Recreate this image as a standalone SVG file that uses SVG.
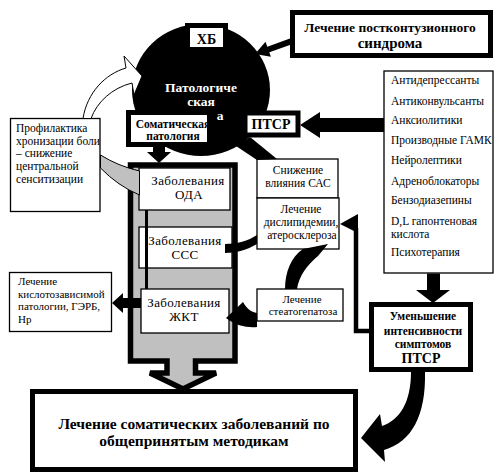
<svg xmlns="http://www.w3.org/2000/svg" width="499" height="476" viewBox="0 0 499 476" font-family="'Liberation Serif', 'Times New Roman', 'DejaVu Serif', serif">
<style>
text{font-family:'Liberation Serif','Times New Roman','DejaVu Serif',serif;fill:#000}
.b{font-weight:bold}
.m{text-anchor:middle}
.thin{fill:#fff;stroke:#000;stroke-width:1.3}
.thick{fill:#fff;stroke:#000;stroke-width:5}
.blk{fill:#000;stroke:none}
.z{font-size:13px;letter-spacing:0.4px}
.s{font-size:11.5px}
.w{fill:#fff}
</style>
<rect width="499" height="476" fill="#fff"/>

<g id="core">
<ellipse cx="201" cy="90" rx="69" ry="66" fill="#000"/>
<text class="b m w" x="201" y="92" font-size="13.5">Патологиче</text>
<text class="b m w" x="201" y="106" font-size="13.5">ская</text>
<text class="b m w" x="220" y="120" font-size="13.5">а</text>
</g>

<g id="column">
<polygon points="130.5,165 235,165 235,361 195.5,361 195.5,373 216,373 183,389 150,373 167,373 167,361 130.5,361" fill="#c0c0c0" stroke="#000" stroke-width="5.5"/>
</g>

<g id="hb">
<rect class="thick" x="187.5" y="25.5" width="38" height="24"/>
<text class="b m" x="206.5" y="44" font-size="14">ХБ</text>
</g>

<g id="postcontusion">
<rect class="thick" x="292.5" y="12.5" width="198" height="43"/>
<text class="b m" x="390" y="32" font-size="13.5">Лечение постконтузионного</text>
<text class="b m" x="390" y="48" font-size="15">синдрома</text>
</g>

<g id="ptsr">
<rect class="thick" x="245" y="113" width="53" height="22" stroke-width="4"/>
<text class="b m" x="271" y="129" font-size="14">ПТСР</text>
</g>

<g id="somatic">
<rect class="thick" x="128.5" y="112.5" width="81" height="32"/>
<text class="b m" x="173" y="128" font-size="11.5">Соматическая</text>
<text class="b m" x="173" y="140" font-size="11.5">патология</text>
</g>

<g id="drugs">
<rect class="thin" x="384" y="71" width="109" height="202"/>
<text class="s" x="391" y="84">Антидепрессанты</text>
<text class="s" x="391" y="105">Антиконвульсанты</text>
<text class="s" x="391" y="124">Анксиолитики</text>
<text class="s" x="391" y="144">Производные ГАМК</text>
<text class="s" x="391" y="164">Нейролептики</text>
<text class="s" x="391" y="185">Адреноблокаторы</text>
<text class="s" x="391" y="204">Бензодиазепины</text>
<text class="s" x="391" y="225">D,L гапонтеновая</text>
<text class="s" x="391" y="238">кислота</text>
<text class="s" x="391" y="256">Психотерапия</text>
</g>

<g id="prevention">
<rect class="thin" x="10.5" y="118.5" width="89.5" height="93"/>
<text class="s" x="16" y="132">Профилактика</text>
<text class="s" x="16" y="145">хронизации боли</text>
<text class="s" x="16" y="157">– снижение</text>
<text class="s" x="16" y="170">центральной</text>
<text class="s" x="16" y="183">сенситизации</text>
</g>

<g id="oda">
<rect class="thin" x="139" y="168" width="91" height="42"/>
<text class="z m" x="188" y="185">Заболевания</text>
<text class="z m" x="189" y="199">ОДА</text>
</g>

<g id="sss">
<rect class="thin" x="139" y="227" width="93" height="41"/>
<text class="z m" x="185" y="245">Заболевания</text>
<text class="z m" x="185" y="259">ССС</text>
</g>

<g id="gkt">
<rect class="thin" x="141" y="289" width="88" height="44"/>
<text class="z m" x="184" y="307">Заболевания</text>
<text class="z m" x="184" y="321">ЖКТ</text>
</g>

<g id="sas">
<rect class="thin" x="257" y="159" width="81" height="39"/>
<text class="s m" x="298" y="174">Снижение</text>
<text class="s m" x="298" y="187">влияния САС</text>
</g>

<g id="dyslip">
<rect class="thin" x="257" y="198" width="82" height="51"/>
<text class="s m" x="301" y="213">Лечение</text>
<text class="s m" x="301" y="226">дислипидемии,</text>
<text class="s m" x="302" y="239">атеросклероза</text>
</g>

<g id="steato">
<rect class="thin" x="257" y="289" width="86" height="32"/>
<text class="m" x="302" y="303" font-size="11">Лечение</text>
<text class="m" x="303" y="315" font-size="11">стеатогепатоза</text>
</g>

<g id="acid">
<rect class="thin" x="9.5" y="272.5" width="102" height="59"/>
<text x="18" y="285" font-size="11">Лечение</text>
<text x="18" y="298" font-size="11">кислотозависимой</text>
<text x="18" y="310" font-size="11">патологии, ГЭРБ,</text>
<text x="18" y="323" font-size="11">Нр</text>
</g>

<g id="reduction">
<rect class="thick" x="371.5" y="304.5" width="99" height="65"/>
<text class="b m" x="423" y="320" font-size="11.5">Уменьшение</text>
<text class="b m" x="423" y="335" font-size="11.5">интенсивности</text>
<text class="b m" x="423" y="348" font-size="11.5">симптомов</text>
<text class="b m" x="421" y="363" font-size="14">ПТСР</text>
</g>

<g id="general">
<rect class="thick" x="32.5" y="391.5" width="323" height="78"/>
<text class="b m" x="194" y="429" font-size="15.5">Лечение соматических заболеваний по</text>
<text class="b m" x="194" y="446" font-size="15.5">общепринятым методикам</text>
</g>

<g id="connectors">
<line x1="293" y1="40.6" x2="267" y2="50" stroke="#000" stroke-width="6"/>
<polygon class="blk" points="255,54 265.5,41.7 270.9,56.7"/>
<path class="blk" d="M384 118 H320 V112 L300 125 L320 138 V132 H384 Z"/>
<path class="blk" d="M427 273.5 V290 H416 L433 303 L450 290 H440 V273.5 Z"/>
<path class="blk" d="M411 372 H425 C426 415 412 442 384 450 L385 462 L361 438 L380 414 L382 426 C400 420 411 402 411 372 Z"/>
<path d="M370 331 H356 V228" fill="none" stroke="#000" stroke-width="4.5"/>
<polygon class="blk" points="340,224 358,214 358,233"/>
<path class="blk" d="M225 244 C237 244 248 241 257 235 L257 244 C247 250 236 253 225 253 Z"/>
<path class="blk" d="M285 289 C285 272 291 257 303 249 L328 244 L318 256 C307 265 299 276 297 289 Z"/>
<path class="blk" d="M257 313 C251 312 247 309 243 302 L226 318 C236 326 248 328 257 327 Z"/>
<path class="blk" d="M141 298 H123 V293 L112 303 L123 313 V308 H141 Z"/>
<path class="blk" d="M153 147 V152 H147 L159 163 L171 152 H165 V147 Z"/>
<polygon class="blk" points="236,146 250,137 277,159 257,160"/>
<line x1="146.5" y1="210" x2="146.5" y2="289" stroke="#000" stroke-width="3"/>
<path d="M100.5 155 Q118 166 139.5 171 L139.5 195 Q118 186 100.5 168 Z" fill="#c0c0c0" stroke="#000" stroke-width="1"/>
<path d="M83 118.5 C87 93 105 74 126 68 L124 56 L142 76 L134 95 L132 83 C112 88 97 102 91 118.5 Z" fill="#fff" stroke="#000" stroke-width="1"/>
</g>
</svg>
